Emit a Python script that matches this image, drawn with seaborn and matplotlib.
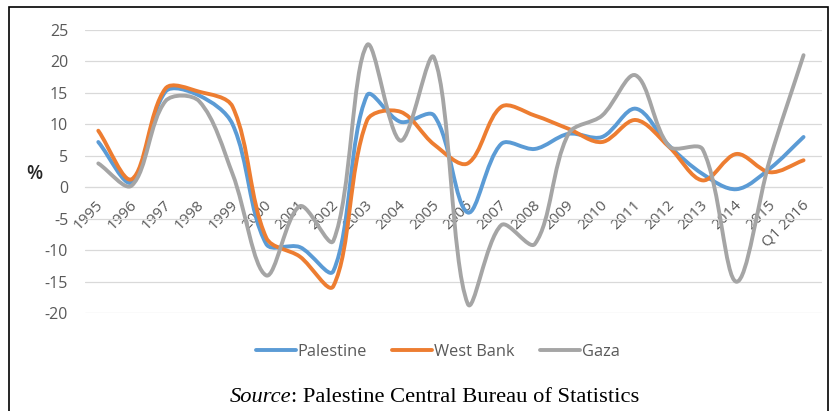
import numpy as np
import pandas as pd
import matplotlib
matplotlib.use("Agg")
import matplotlib.pyplot as plt
import matplotlib.transforms as mtransforms
import seaborn as sns
from matplotlib.path import Path
from matplotlib.patches import PathPatch, Rectangle
from matplotlib.lines import Line2D

# growth rates (%)
years = ["1995", "1996", "1997", "1998", "1999", "2000", "2001", "2002", "2003",
         "2004", "2005", "2006", "2007", "2008", "2009", "2010", "2011", "2012",
         "2013", "2014", "2015", "Q1 2016"]
palestine = [7.2, 0.8, 15.2, 14.6, 10.0, -9.0, -9.5, -13.3, 14.6, 10.4, 11.4,
             -4.0, 6.9, 6.1, 8.5, 8.0, 12.5, 6.6, 2.1, -0.3, 3.0, 8.0]
west_bank = [9.0, 1.3, 15.7, 15.2, 12.8, -8.0, -11.0, -15.7, 10.6, 12.0, 6.8,
             3.8, 12.8, 11.4, 9.3, 7.2, 10.7, 6.4, 1.1, 5.3, 2.4, 4.3]
gaza = [3.8, 0.3, 13.7, 13.7, 2.1, -14.0, -3.0, -8.5, 22.6, 7.4, 20.6,
        -18.5, -6.0, -9.0, 8.5, 11.4, 17.8, 6.5, 6.0, -15.0, 4.5, 21.0]

series_names = ["Palestine", "West Bank", "Gaza"]
colors = ["#5B9BD5", "#ED7D31", "#A5A5A5"]
yticks = list(range(-20, 30, 5))

df = pd.DataFrame({
    "pos": list(range(len(years))) * 3,
    "value": palestine + west_bank + gaza,
    "region": np.repeat(series_names, len(years)),
})

sns.set_style("white")
plt.rcParams["font.family"] = ["Open Sans", "DejaVu Sans"]

fig = plt.figure(figsize=(8.32, 4.11), dpi=100)
ax = fig.add_axes([0.102, 0.238, 0.886, 0.689])

sns.lineplot(data=df, x="pos", y="value", hue="region", palette=colors,
             legend=False, ax=ax, lw=2.8)

ax.set_xlim(-0.4, 21.55)
ax.set_ylim(-20, 25)

# pixels per data unit, used so the smoothing behaves like Excel (screen space)
bbox = ax.get_position()
sx = bbox.width * 832 / (21.55 + 0.4)
sy = bbox.height * 411 / 45.0


def smooth_path(x, y):
    # Excel-style smoothed line: bezier segments, tangent split by chord length
    p = np.column_stack([x * sx, y * sy])
    n = len(p)
    ctrl_out, ctrl_in = [], []
    for i in range(n):
        prv = p[i - 1] if i > 0 else p[i]
        nxt = p[i + 1] if i < n - 1 else p[i]
        t = nxt - prv
        d0 = np.hypot(*(p[i] - prv))
        d1 = np.hypot(*(nxt - p[i]))
        tot = d0 + d1 if d0 + d1 > 0 else 1.0
        ctrl_out.append(p[i] + t * (1 / 3) * d1 / tot)
        ctrl_in.append(p[i] - t * (1 / 3) * d0 / tot)
    verts = [p[0]]
    codes = [Path.MOVETO]
    for i in range(n - 1):
        verts += [ctrl_out[i], ctrl_in[i + 1], p[i + 1]]
        codes += [Path.CURVE4] * 3
    verts = np.array(verts) / [sx, sy]
    return Path(verts, codes)


for line, color in zip(list(ax.lines), colors):
    xd = np.asarray(line.get_xdata(), float)
    yd = np.asarray(line.get_ydata(), float)
    ax.add_patch(PathPatch(smooth_path(xd, yd), fill=False, edgecolor=color,
                           lw=2.8, capstyle="round", joinstyle="round", zorder=3))
    line.set_visible(False)

ax.set_xlabel("")
ax.set_ylabel("")
ax.grid(axis="y", color="#D9D9D9", lw=0.9)
ax.grid(axis="x", visible=False)
for s in ["top", "right", "left"]:
    ax.spines[s].set_visible(False)
ax.spines["bottom"].set_position(("data", 0))
ax.spines["bottom"].set_color("#D9D9D9")

ax.set_yticks(yticks)
ax.set_yticklabels([str(t) for t in yticks])
ax.set_xticks(range(len(years)))
ax.set_xticklabels(years)
ax.tick_params(axis="x", length=0, pad=11, labelsize=11, labelcolor="#595959")
ax.tick_params(axis="y", length=0, pad=12, labelsize=11.5, labelcolor="#595959")
shift = mtransforms.ScaledTranslation(3 / 100, 0, fig.dpi_scale_trans)
for lab in ax.get_xticklabels():
    lab.set_rotation(45)
    lab.set_ha("right")
    lab.set_va("center")
    lab.set_rotation_mode("anchor")
    lab.set_transform(lab.get_transform() + shift)

fig.text(34 / 832, 1 - 174 / 411, "%", fontsize=13.5, fontweight="semibold",
         color="#262626", ha="center", va="center")

handles = [Line2D([], [], color=c, lw=2.8) for c in colors]
fig.legend(handles, series_names, loc="center", bbox_to_anchor=(0.526, 1 - 352 / 411),
           ncol=3, frameon=False, handlelength=2.45, handletextpad=0.1,
           columnspacing=1.55, fontsize=11.8, labelcolor="#595959")

fig.text(291 / 832, 1 - 397 / 411, "Source", family="Liberation Serif",
         style="italic", fontsize=16.2, ha="right", va="center", color="black")
fig.text(291 / 832, 1 - 397 / 411, ": Palestine Central Bureau of Statistics",
         family="Liberation Serif", fontsize=16.2, ha="left", va="center", color="black")

fig.patches.append(Rectangle((9 / 832, -0.02), (828 - 9) / 832, 1 - 7 / 411 + 0.02,
                             transform=fig.transFigure, fill=False, ec="black",
                             lw=1.2, figure=fig))

fig.savefig("out.png", dpi=100)
